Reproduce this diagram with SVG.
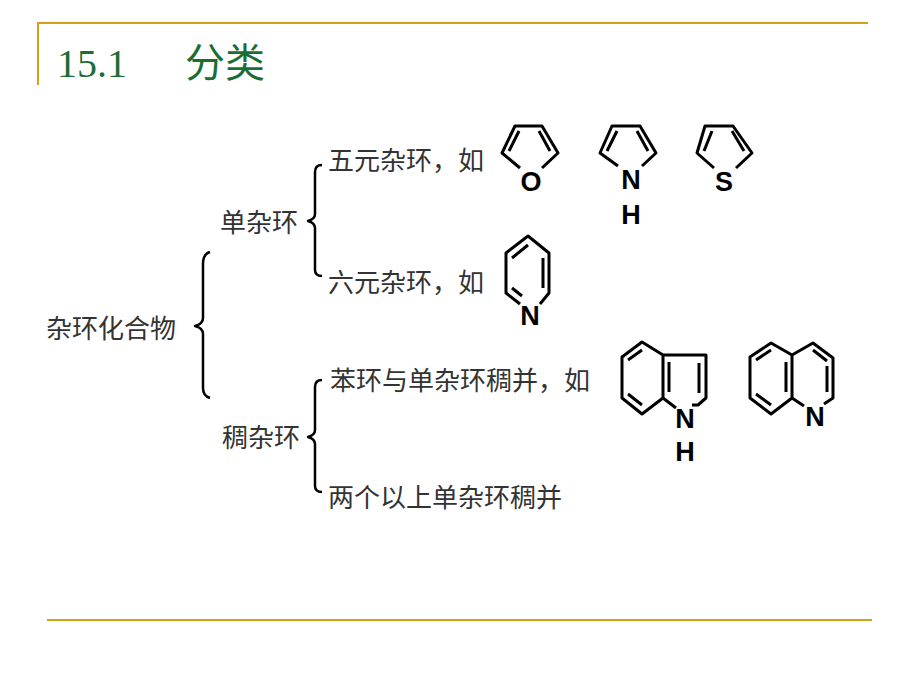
<svg xmlns="http://www.w3.org/2000/svg" width="920" height="690" viewBox="0 0 920 690">
<style>
.t{font-family:"Liberation Serif","Noto Sans CJK SC",serif;font-size:26px;fill:#333}
.h{font-family:"Liberation Serif","Noto Sans CJK SC",serif;font-size:40px;fill:#1a6e33}
.b{fill:none;stroke:#000;stroke-width:2.5;stroke-linejoin:round}
.m{fill:none;stroke:#000;stroke-width:3;stroke-linejoin:round}
.a{font-family:"Liberation Sans",sans-serif;font-size:27px;font-weight:bold;fill:#000;text-anchor:middle}
.g{stroke:#d4a017;stroke-width:2;fill:none}
</style>
<rect width="920" height="690" fill="#fff"/>
<path class="g" d="M38,85V23H868M47,620H872"/>
<text class="h" x="57" y="77">15.1</text>
<text class="h" x="185" y="77">分类</text>
<g id="connectors">
<path class="b" d="M210,252Q203,254 203,264V318Q203,324 195,326Q203,328 203,334V388Q203,396 210,398"/>
<path class="b" d="M322,165Q315,165 315,172V214Q315,219 308,221Q315,223 315,228V270Q315,276 322,276"/>
<path class="b" d="M322,380Q315,380 315,387V430Q315,435 308,437Q315,439 315,444V486Q315,492 322,492"/>
</g>
<g id="root"><text class="t" x="46" y="338">杂环化合物</text></g>
<g id="single"><text class="t" x="220" y="232">单杂环</text></g>
<g id="fused"><text class="t" x="222" y="447">稠杂环</text></g>
<g id="five"><text class="t" x="328" y="170">五元杂环，如</text></g>
<g id="six"><text class="t" x="328" y="292">六元杂环，如</text></g>
<g id="benzo"><text class="t" x="330" y="390">苯环与单杂环稠并，如</text></g>
<g id="multi"><text class="t" x="328" y="507">两个以上单杂环稠并</text></g>
<g id="furan">
<path class="m" d="M520,168L502,153L515,126H542L558,153L542,168M509,151L519,131M550,151L539,131"/>
<text class="a" x="531" y="191">O</text></g>
<g id="pyrrole">
<path class="m" d="M618,166L600,153L612,126H640L656,153L642,166M607,151L617,131M648,151L637,131"/>
<text class="a" x="631" y="189">N</text><text class="a" x="631" y="224">H</text></g>
<g id="thiophene">
<path class="m" d="M714,168L697,153L705,126H733L752,153L736,168M704,151L712,131M744,151L732,131"/>
<text class="a" x="724" y="191">S</text></g>
<g id="pyridine">
<path class="m" d="M520,304L506,293V253L528,236L549,253V293L540,304M512,258L528,245M543,258V288M512,288L522,296"/>
<text class="a" x="530" y="325">N</text></g>
<g id="indole">
<path class="m" d="M642,342L663,355V398L642,414L622,398V357ZM628,360L642,350M628,394L642,405M663,355H706V398L698,405H692M663,398L676,408M669,362V392M699,363V393"/>
<text class="a" x="685" y="428">N</text><text class="a" x="685" y="461">H</text></g>
<g id="quinoline">
<path class="m" d="M771,343L792,355V398L771,414L750,398V357ZM756,360L771,350M756,394L771,405M786,362V392M792,355L813,343L833,358V398L824,404M792,398L804,406M813,350L827,361M827,366V392"/>
<text class="a" x="815" y="426">N</text></g>
</svg>
